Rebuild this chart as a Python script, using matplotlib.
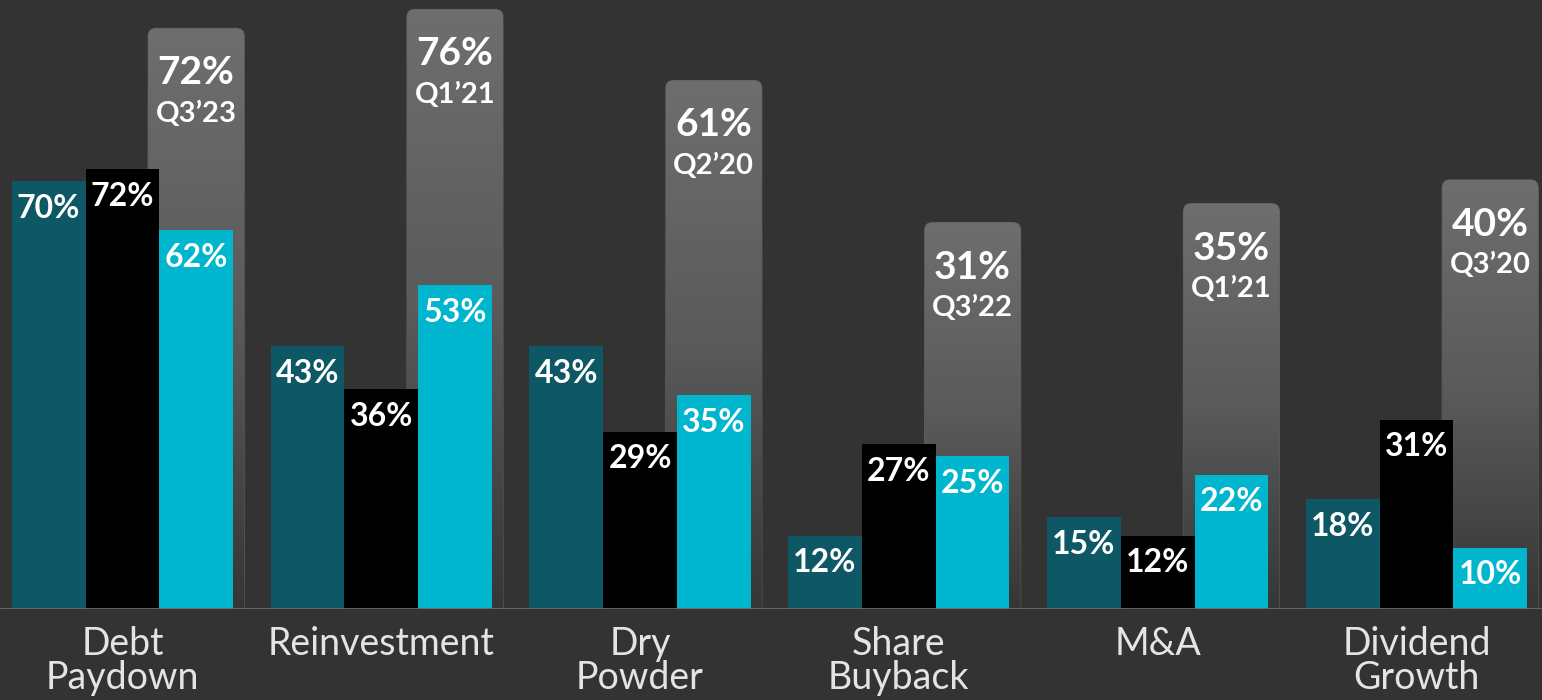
import numpy as np
import matplotlib.pyplot as plt
from matplotlib.patches import FancyBboxPatch
from matplotlib.colors import LinearSegmentedColormap

# uses of cash, three survey waves + the series peak
categories = ["Debt\nPaydown", "Reinvestment", "Dry\nPowder", "Share\nBuyback", "M&A", "Dividend\nGrowth"]
wave_a = [70, 43, 43, 12, 15, 18]
wave_b = [72, 36, 29, 27, 12, 31]
wave_c = [62, 53, 35, 25, 22, 10]
peak_vals = [72, 76, 61, 31, 35, 40]
peak_dates = ["Q3\u201923", "Q1\u201921", "Q2\u201920", "Q3\u201922", "Q1\u201921", "Q3\u201920"]

BG = "#333333"
TEAL = "#0e5764"
BLACK = "#000000"
CYAN = "#00b5ce"
plt.rcParams["font.family"] = ["Lato", "DejaVu Sans"]

fig = plt.figure(figsize=(15.42, 7), dpi=100, facecolor=BG)
ax = fig.add_axes([0, 0.13, 1, 0.87])
ax2 = ax.twinx()
# colored bars sit in front of the peak bars
ax.set_zorder(ax2.get_zorder() + 1)
ax.patch.set_visible(False)
ax2.set_facecolor(BG)

x = np.arange(len(categories))
w = 0.285
ax.set_xlim(-0.473, 5.485)
ax.set_ylim(0, 99.7)

# peak axis: floor sits below zero so short peaks still stand tall
floor = -50.6
ax2.set_xlim(-0.473, 5.485)
ax2.set_ylim(floor, floor + 609 / 4.736)

for series, color, off in [(wave_a, TEAL, -w), (wave_b, BLACK, 0), (wave_c, CYAN, w)]:
    bars = ax.bar(x + off, series, width=w, color=color, linewidth=0)
    for b, v in zip(bars, series):
        ax.annotate(f"{v}%", (b.get_x() + b.get_width() / 2, v), xytext=(0, -36.5),
                    textcoords="offset pixels", ha="center", va="baseline",
                    color="white", fontsize=23, fontweight="bold")

# rounded peak bars with a vertical gray gradient
fig.canvas.draw()
px_x = ax2.transData.transform((1, 0))[0] - ax2.transData.transform((0, 0))[0]
px_y = ax2.transData.transform((0, 1))[1] - ax2.transData.transform((0, 0))[1]
r = 8 / px_x
gw = 0.371
grad = LinearSegmentedColormap.from_list("g", ["#363636", "#5a5a5a", "#6e6e6e"])
for xi, v, d in zip(x, peak_vals, peak_dates):
    x0 = xi + w - gw / 2
    patch = FancyBboxPatch((x0, floor - 5), gw, v - floor + 5,
                           boxstyle=f"round,pad=0,rounding_size={r}",
                           mutation_aspect=px_x / px_y,
                           facecolor="none", edgecolor="#5e5e5e", linewidth=0.8)
    ax2.add_patch(patch)
    img = ax2.imshow(np.linspace(0, 1, 256).reshape(-1, 1), extent=(x0, x0 + gw, floor, v),
                     origin="lower", cmap=grad, aspect="auto", zorder=1)
    img.set_clip_path(patch)
    ax2.annotate(f"{v}%", (xi + w, v), xytext=(0, -56), textcoords="offset pixels",
                 ha="center", va="baseline", color="white", fontsize=28, fontweight="bold")
    ax2.annotate(d, (xi + w, v), xytext=(0, -93.5), textcoords="offset pixels",
                 ha="center", va="baseline", color="white", fontsize=21, fontweight="bold")
ax2.set_xlim(-0.473, 5.485)
ax2.set_ylim(floor, floor + 609 / 4.736)

ax.set_xticks(x)
ax.set_xticklabels(categories, fontsize=27, color="#e4e4e4", linespacing=0.95)
ax.tick_params(axis="x", length=0, pad=12)
ax.set_yticks([])
ax2.set_yticks([])
for a in (ax, ax2):
    for s in a.spines.values():
        s.set_visible(False)
ax.axhline(0, color="#6b6b6b", linewidth=2, zorder=5)

fig.savefig("out.png", dpi=100, facecolor=BG)
